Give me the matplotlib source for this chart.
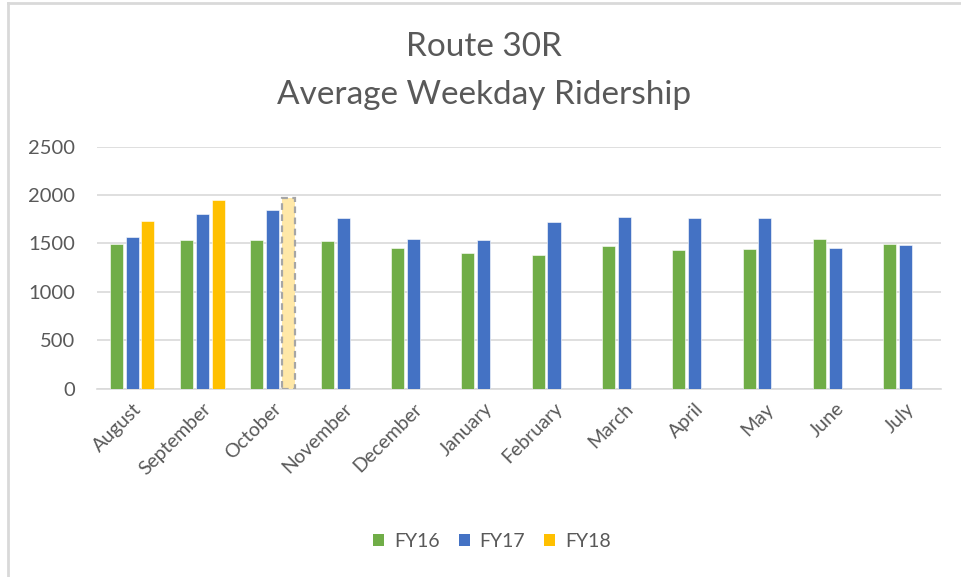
import matplotlib
matplotlib.use("Agg")
import matplotlib.pyplot as plt
import numpy as np
from matplotlib.patches import Patch
from matplotlib.lines import Line2D

plt.rcParams['font.family'] = ['Lato', 'DejaVu Sans']

months = ['August', 'September', 'October', 'November', 'December', 'January',
          'February', 'March', 'April', 'May', 'June', 'July']
fy16 = [1495, 1536, 1536, 1523, 1457, 1402, 1378, 1471, 1430, 1443, 1550, 1495]
fy17 = [1565, 1802, 1843, 1760, 1550, 1536, 1722, 1774, 1760, 1760, 1457, 1481]
fy18 = [1735, 1949, 1973]  # October is a partial month (shown faded)
series_names = ['FY16', 'FY17', 'FY18']
colors = ['#70AD47', '#4472C4', '#FFC000']

text_gray = '#595959'
grid_gray = '#D9D9D9'

fig = plt.figure(figsize=(9.61, 5.77), dpi=100)
ax = fig.add_axes([0.1009, 0.3263, 0.878, 0.4195])

x = np.arange(len(months))
w = 0.185
off = 0.225

ax.bar(x - off, fy16, width=w, color=colors[0], edgecolor='white', linewidth=0.4, zorder=3)
ax.bar(x, fy17, width=w, color=colors[1], edgecolor='white', linewidth=0.4, zorder=3)
x18 = x[:len(fy18)] + off
ax.bar(x18[:-1], fy18[:-1], width=w, color=colors[2], edgecolor='white', linewidth=0.4, zorder=3)
# partial month: faded fill with dashed outline
ax.bar(x18[-1:], fy18[-1:], width=w, color='#FFE8A8', edgecolor='#A6A6A6',
       linewidth=1.6, linestyle=(0, (3, 2)), zorder=3)

ax.set_xlim(-0.5, len(months) - 0.5)
ax.set_ylim(0, 2500)
ax.set_yticks(np.arange(0, 2501, 500))
ax.yaxis.grid(True, color=grid_gray, linewidth=1.2, zorder=0)
ax.set_axisbelow(True)
for s in ['top', 'right', 'left']:
    ax.spines[s].set_visible(False)
ax.spines['bottom'].set_color(grid_gray)
ax.spines['bottom'].set_linewidth(1.2)

ax.set_xticks(x)
ax.set_xticklabels(months, rotation=45, ha='right', rotation_mode='anchor',
                   fontsize=14, color=text_gray)
ax.tick_params(axis='x', length=0, pad=8)
ax.tick_params(axis='y', length=0, pad=16, labelsize=14.5, labelcolor=text_gray)

fig.text(0.504, 0.918, 'Route 30R', ha='center', va='center', fontsize=24, color=text_gray)
fig.text(0.504, 0.835, 'Average Weekday Ridership', ha='center', va='center',
         fontsize=24, color=text_gray)

handles = [Patch(facecolor=c) for c in colors]
fig.legend(handles, series_names, loc='center', bbox_to_anchor=(0.512, 0.062), ncol=3,
           frameon=False, fontsize=14, handlelength=0.55, handleheight=0.55,
           handletextpad=0.5, columnspacing=1.0, labelcolor=text_gray)

# chart-area border (left and top edges visible in the crop)
fig.add_artist(Line2D([8 / 961, 8 / 961], [0, 1 - 3 / 577], transform=fig.transFigure,
                      color=grid_gray, linewidth=2))
fig.add_artist(Line2D([8 / 961, 1], [1 - 3 / 577, 1 - 3 / 577], transform=fig.transFigure,
                      color=grid_gray, linewidth=2))

fig.savefig('out.png', dpi=100, facecolor='white')
